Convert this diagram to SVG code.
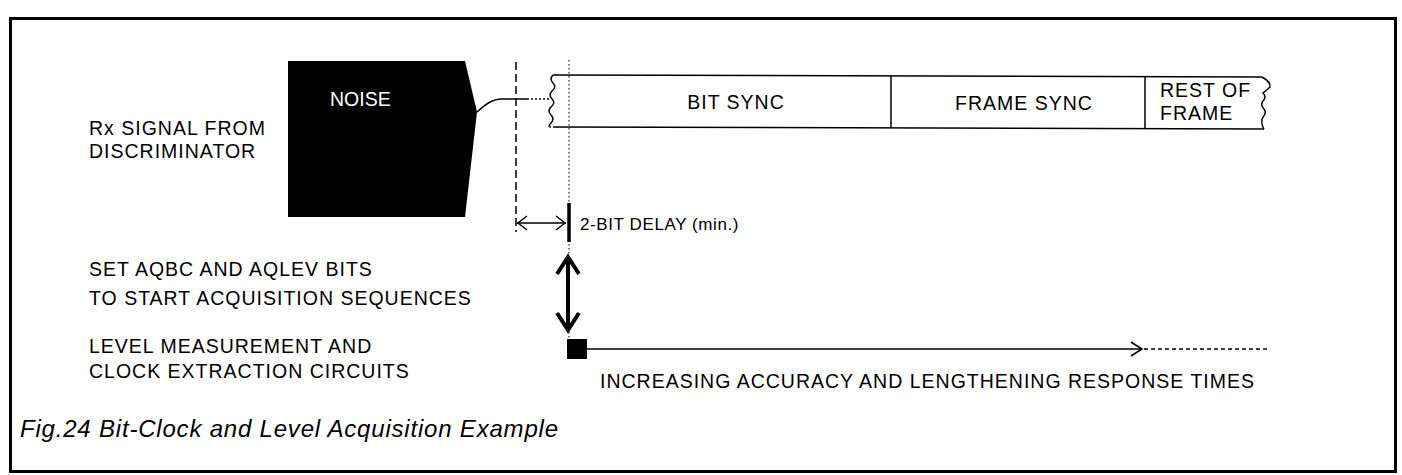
<svg xmlns="http://www.w3.org/2000/svg" width="1402" height="475" viewBox="0 0 1402 475">
<style>
text{font-family:"Liberation Sans",Arial,sans-serif;font-size:19.5px;fill:#000;letter-spacing:1px}
.cap{font-style:italic;font-size:24px;letter-spacing:0.8px}
.ln{fill:none;stroke:#000;stroke-width:1.5}
.thick{fill:none;stroke:#000;stroke-width:4;stroke-linecap:butt}
</style>
<rect width="1402" height="475" fill="#fff"/>
<rect x="10.5" y="18.5" width="1385" height="453" fill="none" stroke="#000" stroke-width="3"/>

<g id="labels">
<text x="89" y="135">Rx SIGNAL FROM</text>
<text x="89" y="158">DISCRIMINATOR</text>
<text x="89" y="276">SET AQBC AND AQLEV BITS</text>
<text x="89" y="305">TO START ACQUISITION SEQUENCES</text>
<text x="89" y="353">LEVEL MEASUREMENT AND</text>
<text x="89" y="378">CLOCK EXTRACTION CIRCUITS</text>
<text class="cap" x="20" y="437">Fig.24 Bit-Clock and Level Acquisition Example</text>
</g>

<g id="noise">
<polygon points="288,61 465,61 477,112 465,217 288,217" fill="#000"/>
<text x="330" y="106" style="fill:#fff;letter-spacing:0px">NOISE</text>
</g>

<g id="frame-bar">
<line class="ln" x1="553" y1="75" x2="1262" y2="77"/>
<line class="ln" x1="553" y1="127" x2="1264" y2="129"/>
<path class="ln" d="M553,75 q-4,4 0,8 q4,4 -1,8 q-4,4 0,8 q4,4 -1,8 q-4,4 0,8 q4,4 0,8 q-4,4 0,4"/>
<path class="ln" d="M1262,77 q9,5 8,10 q-3,3 -7,6 q4,4 0,8 q-3,4 1,8 q3,4 -1,8 q-3,5 1,12"/>
<line class="ln" x1="891" y1="76" x2="891" y2="128"/>
<line class="ln" x1="1145" y1="77" x2="1145" y2="129"/>
<text x="736" y="109" text-anchor="middle">BIT SYNC</text>
<text x="1024" y="110" text-anchor="middle">FRAME SYNC</text>
<text x="1160" y="97">REST OF</text>
<text x="1160" y="120">FRAME</text>
</g>

<g id="delay">
<text x="580" y="230" style="font-size:17px;letter-spacing:0.6px">2-BIT DELAY (min.)</text>
</g>

<g id="square">
<rect x="567" y="339" width="20" height="20" fill="#000"/>
</g>

<g id="connectors">
<path class="ln" d="M477,112 C486,104 492,99 502,99 L527,99"/>
<line class="ln" x1="527" y1="99" x2="550" y2="99" stroke-dasharray="2,2"/>
<line class="ln" x1="516" y1="62" x2="516" y2="232" stroke-dasharray="8,4"/>
<line x1="569" y1="60" x2="569" y2="339" stroke="#000" stroke-width="1" stroke-dasharray="1.5,2.5"/>
<line class="ln" x1="517" y1="223" x2="566" y2="223"/>
<polyline class="ln" points="527,216 518,223 527,230" stroke-width="2.5"/>
<polyline class="ln" points="556,216 565,223 556,230" stroke-width="2.5"/>
<line x1="569" y1="203" x2="569" y2="242" stroke="#000" stroke-width="3.5"/>
<line class="thick" x1="568" y1="258" x2="568" y2="329"/>
<polyline class="thick" points="557,274 568,257 579,274"/>
<polyline class="thick" points="557,313 568,330 579,313"/>
<line class="ln" x1="587" y1="349" x2="1142" y2="349"/>
<polyline class="ln" points="1131,342 1142,349 1131,356" stroke-width="2"/>
<line class="ln" x1="1144" y1="349" x2="1268" y2="349" stroke-dasharray="4,3" stroke-width="1"/>
</g>
<text x="600" y="388">INCREASING ACCURACY AND LENGTHENING RESPONSE TIMES</text>
</svg>
